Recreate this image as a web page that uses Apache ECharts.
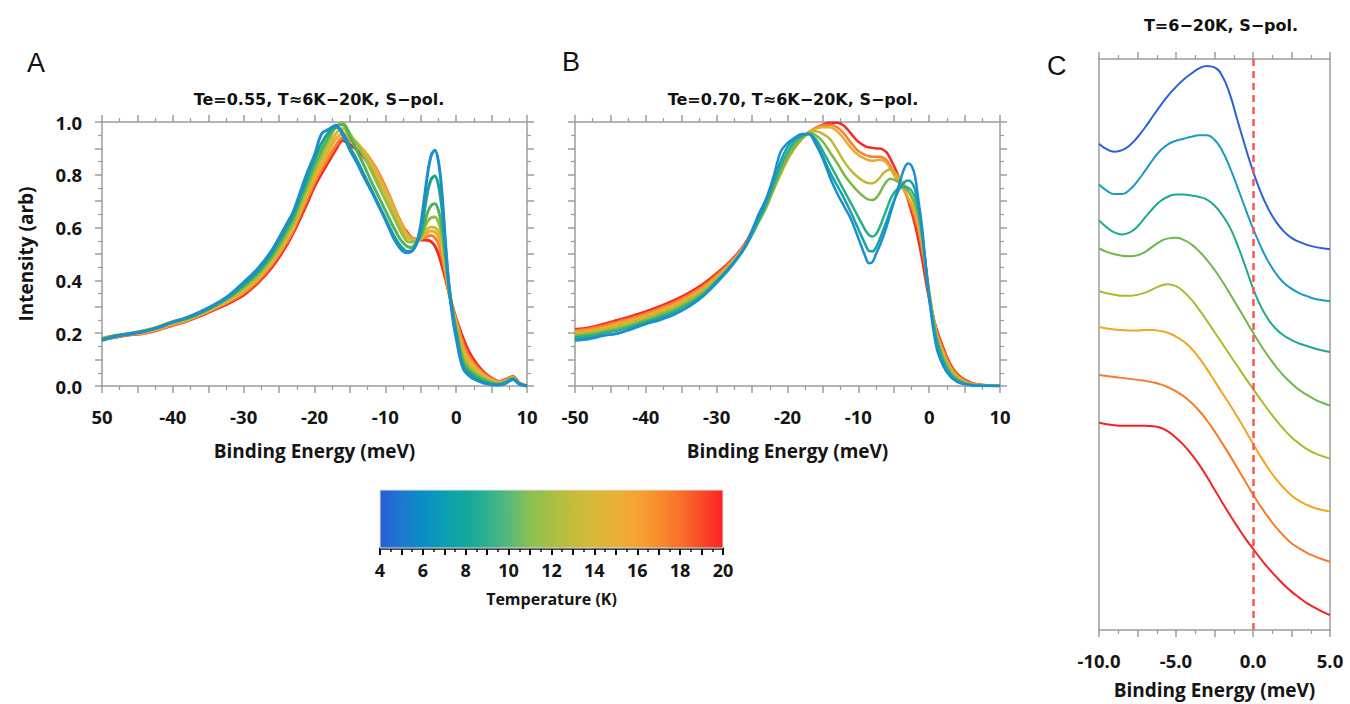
<!DOCTYPE html>
<html><head><meta charset="utf-8">
<script src="https://cdn.jsdelivr.net/npm/echarts@6/dist/echarts.min.js"></script>
<style>html,body{margin:0;padding:0;background:#fff}#chart{width:1350px;height:704px}</style>
</head><body><div id="chart"></div>
<script>
// ---------- shared x grid for panels A and B (meV) ----------
const X_AB = [-50,-48,-46,-44,-42,-40,-38,-36,-34,-32,-30,-28,-26,-24,
  -23,-22,-21,-20,-19,-18,-17,-16,-15,-14,-13,-12,-11,-10,-9,
  -8.5,-8,-7.5,-7,-6.5,-6,-5.5,-5,-4.5,-4,-3.5,-3,-2.5,-2,-1.5,-1,-0.5,0,
  1,2,3,4,5,6,7,8,9,10];

// ---------- Panel A: Te=0.55 (6K ... 20K) ----------
const A_06K = [0.172,0.188,0.197,0.207,0.222,0.242,0.26,0.283,0.31,0.345,0.393,0.445,0.515,0.61,
  0.66,0.735,0.81,0.875,0.955,0.972,0.988,0.95,0.894,0.845,0.79,0.74,0.685,0.63,0.57,
  0.545,0.525,0.51,0.505,0.507,0.518,0.55,0.61,0.71,0.81,0.875,0.893,0.85,0.73,0.54,0.37,0.26,0.18,
  0.065,0.035,0.02,0.01,0.006,0.004,0.01,0.025,0.006,0];
const A_08K = [0.175,0.19,0.198,0.207,0.222,0.242,0.258,0.28,0.307,0.34,0.385,0.435,0.505,0.598,
  0.65,0.72,0.79,0.86,0.92,0.96,0.98,0.96,0.905,0.855,0.8,0.745,0.69,0.635,0.58,
  0.555,0.535,0.52,0.51,0.51,0.52,0.545,0.585,0.66,0.74,0.785,0.795,0.76,0.67,0.52,0.38,0.28,0.2,
  0.075,0.045,0.027,0.015,0.008,0.005,0.012,0.026,0.007,0];
const A_10K = [0.178,0.19,0.199,0.208,0.223,0.242,0.256,0.278,0.305,0.337,0.378,0.428,0.495,0.585,
  0.635,0.705,0.772,0.838,0.895,0.945,0.985,0.99,0.945,0.89,0.835,0.775,0.72,0.665,0.61,
  0.585,0.56,0.543,0.53,0.525,0.53,0.545,0.57,0.615,0.66,0.685,0.69,0.665,0.6,0.49,0.37,0.28,0.21,
  0.09,0.055,0.035,0.02,0.011,0.007,0.014,0.028,0.008,0];
const A_12K = [0.18,0.192,0.2,0.21,0.225,0.245,0.255,0.277,0.303,0.333,0.372,0.42,0.485,0.572,
  0.622,0.69,0.755,0.818,0.875,0.93,0.98,0.995,0.955,0.915,0.87,0.815,0.76,0.705,0.65,
  0.622,0.595,0.57,0.55,0.545,0.545,0.55,0.565,0.595,0.625,0.638,0.64,0.62,0.57,0.47,0.365,0.28,0.22,
  0.105,0.065,0.043,0.026,0.015,0.009,0.016,0.03,0.008,0];
const A_14K = [0.182,0.19,0.199,0.206,0.22,0.24,0.252,0.274,0.3,0.33,0.365,0.412,0.475,0.56,
  0.61,0.675,0.74,0.8,0.855,0.905,0.955,0.975,0.945,0.92,0.885,0.84,0.785,0.73,0.675,
  0.645,0.615,0.588,0.565,0.556,0.552,0.553,0.56,0.578,0.595,0.602,0.6,0.585,0.545,0.46,0.36,0.285,0.23,
  0.12,0.078,0.052,0.032,0.019,0.011,0.018,0.031,0.009,0];
const A_16K = [0.18,0.188,0.197,0.203,0.217,0.235,0.25,0.272,0.297,0.325,0.358,0.405,0.467,0.55,
  0.6,0.662,0.725,0.785,0.835,0.885,0.935,0.955,0.94,0.92,0.89,0.85,0.8,0.745,0.69,
  0.658,0.625,0.6,0.575,0.562,0.556,0.555,0.558,0.57,0.582,0.587,0.583,0.565,0.52,0.44,0.355,0.29,0.24,
  0.14,0.092,0.062,0.039,0.023,0.013,0.02,0.033,0.009,0];
const A_18K = [0.178,0.186,0.195,0.2,0.215,0.232,0.248,0.27,0.294,0.32,0.352,0.397,0.46,0.54,
  0.59,0.65,0.71,0.77,0.82,0.865,0.91,0.94,0.93,0.915,0.89,0.855,0.81,0.755,0.695,
  0.662,0.632,0.605,0.58,0.565,0.557,0.555,0.556,0.562,0.568,0.57,0.562,0.54,0.49,0.425,0.352,0.295,0.25,
  0.16,0.105,0.07,0.045,0.027,0.015,0.022,0.034,0.01,0];
const A_20K = [0.176,0.185,0.194,0.2,0.213,0.23,0.246,0.267,0.29,0.315,0.345,0.39,0.45,0.53,
  0.58,0.636,0.695,0.755,0.805,0.85,0.895,0.93,0.915,0.894,0.865,0.825,0.78,0.735,0.68,
  0.65,0.62,0.6,0.585,0.567,0.558,0.555,0.553,0.553,0.552,0.546,0.53,0.5,0.455,0.405,0.35,0.3,0.255,
  0.18,0.12,0.08,0.05,0.03,0.017,0.025,0.036,0.01,0];

// ---------- Panel B: Te=0.70 (6K ... 20K) ----------
const B_06K = [0.172,0.178,0.19,0.2,0.215,0.235,0.25,0.27,0.3,0.34,0.395,0.455,0.53,0.655,
  0.71,0.79,0.885,0.92,0.94,0.955,0.955,0.915,0.86,0.79,0.73,0.68,0.63,0.56,0.49,
  0.465,0.47,0.5,0.53,0.565,0.605,0.65,0.695,0.74,0.785,0.825,0.843,0.835,0.795,0.7,0.6,0.46,0.33,
  0.15,0.075,0.035,0.015,0.007,0.003,0.001,0,0,0];
const B_08K = [0.178,0.183,0.193,0.198,0.22,0.238,0.255,0.275,0.3,0.338,0.39,0.45,0.525,0.64,
  0.7,0.775,0.85,0.905,0.935,0.95,0.955,0.925,0.87,0.81,0.76,0.71,0.655,0.595,0.535,
  0.512,0.51,0.525,0.555,0.59,0.625,0.665,0.7,0.73,0.755,0.772,0.778,0.772,0.745,0.68,0.585,0.46,0.34,
  0.17,0.085,0.04,0.018,0.008,0.003,0.001,0,0,0];
const B_10K = [0.185,0.19,0.2,0.21,0.226,0.243,0.262,0.283,0.31,0.345,0.395,0.452,0.525,0.63,
  0.69,0.76,0.83,0.885,0.925,0.945,0.955,0.935,0.89,0.84,0.79,0.74,0.69,0.64,0.59,
  0.572,0.566,0.575,0.6,0.635,0.67,0.705,0.73,0.745,0.752,0.755,0.752,0.74,0.715,0.66,0.575,0.46,0.345,
  0.18,0.095,0.045,0.021,0.01,0.004,0.002,0.001,0,0];
const B_12K = [0.19,0.196,0.206,0.218,0.233,0.25,0.27,0.29,0.318,0.352,0.4,0.455,0.525,0.625,
  0.68,0.745,0.81,0.865,0.91,0.94,0.958,0.95,0.925,0.885,0.845,0.8,0.765,0.735,0.712,
  0.706,0.705,0.712,0.73,0.755,0.775,0.785,0.782,0.775,0.765,0.755,0.74,0.72,0.69,0.64,0.565,0.46,0.35,
  0.19,0.105,0.052,0.025,0.012,0.005,0.002,0.001,0,0];
const B_14K = [0.197,0.203,0.213,0.227,0.242,0.258,0.278,0.298,0.327,0.36,0.405,0.46,0.528,0.625,
  0.675,0.74,0.8,0.855,0.9,0.935,0.96,0.965,0.955,0.935,0.895,0.85,0.815,0.79,0.772,
  0.768,0.768,0.775,0.788,0.805,0.816,0.82,0.812,0.798,0.78,0.762,0.74,0.715,0.68,0.63,0.56,0.46,0.355,
  0.2,0.115,0.06,0.03,0.015,0.007,0.003,0.001,0,0];
const B_16K = [0.203,0.21,0.22,0.235,0.25,0.266,0.286,0.307,0.335,0.368,0.412,0.465,0.532,0.63,
  0.685,0.745,0.805,0.858,0.9,0.935,0.962,0.975,0.98,0.98,0.965,0.935,0.9,0.875,0.86,
  0.855,0.853,0.855,0.857,0.855,0.845,0.825,0.8,0.78,0.76,0.74,0.715,0.69,0.655,0.605,0.54,0.455,0.36,
  0.205,0.125,0.068,0.036,0.018,0.008,0.004,0.002,0.001,0];
const B_18K = [0.21,0.217,0.228,0.243,0.258,0.275,0.295,0.317,0.344,0.377,0.42,0.47,0.536,0.638,
  0.692,0.752,0.81,0.862,0.903,0.935,0.962,0.978,0.988,0.99,0.98,0.955,0.92,0.89,0.875,
  0.87,0.868,0.868,0.868,0.865,0.855,0.835,0.81,0.785,0.762,0.738,0.71,0.68,0.635,0.59,0.52,0.44,0.345,
  0.21,0.135,0.075,0.04,0.02,0.01,0.005,0.002,0.001,0];
const B_20K = [0.215,0.222,0.235,0.25,0.265,0.282,0.302,0.325,0.352,0.385,0.427,0.475,0.54,0.645,
  0.7,0.76,0.815,0.865,0.905,0.935,0.96,0.978,0.99,0.997,0.997,0.985,0.955,0.925,0.908,
  0.904,0.902,0.9,0.9,0.895,0.885,0.862,0.835,0.805,0.775,0.745,0.705,0.66,0.61,0.55,0.48,0.4,0.33,
  0.22,0.145,0.082,0.045,0.024,0.012,0.006,0.003,0.001,0];

// ---------- Panel C: offset spectra, T = 6-20K (arbitrary offset units) ----------
const X_C = [-10,-9.5,-9,-8.5,-8,-7.5,-7,-6.5,-6,-5.5,-5,-4.5,-4,-3.5,-3,-2.5,-2,-1.5,-1,-0.5,0,0.5,1,1.5,2,2.5,3,3.5,4,4.5,5];
const C_1 = [488,482.5,480,481.5,486.5,494.5,504.5,515.5,526.5,536.5,545,552.5,558.5,563.5,566,564.5,556,537.5,511,485,460.5,439.5,422.5,409.5,400,393.5,389.5,386.5,384.5,383,382];
const C_2 = [447,441,437.5,437.5,442,450.5,461,472,481.5,487.5,491,493,495,496.5,496.5,492,481,464,444,423,403,385,369.5,357.5,348.5,342.5,338,335,332.5,331,330];
const C_3 = [411,404,399,397,399,405,414,423,430.5,435,437,437,436,434.5,432,426,416.5,404,386,365,343,325,311.5,302,295.5,291,287.5,285,282.5,280.5,279];
const C_4 = [383,379.5,377,375.5,375,376,379.5,385,390,393,393.5,391.5,387,380,371.5,361.5,350,337.5,324.5,311.5,298.5,286,274.5,264,255,247.5,241,236,231.5,228,225];
const C_5 = [340,338,336.5,335.5,335.5,336.5,338.5,342,345.5,347,345,339.5,331.5,321.5,310.5,299,287.5,276,264.5,253,242,231,220.5,210.5,201.5,193.5,187,181.5,177.5,174.5,172];
const C_6 = [304,302.5,301.5,301,300.5,300.5,301,301,300,298,294.5,289.5,282.5,273,262,250,238,226,213.5,200.5,187,174,162,151.5,142.5,135,129.5,125.5,122.5,120.5,119];
const C_7 = [256,255,254,253,252,251,250,248.5,246.5,243.5,239.5,234.5,228,220,210.5,199.5,187.5,175,162,149,136,124,113,103,94.5,87,82,77.5,74,71,68.5];
const C_8 = [208,206.5,205.5,205,205,205,205,204.5,203,199,193,185.5,176.5,166,154,141,128,115.5,103.5,92,81.5,71.5,62,53.5,45.5,38.5,32.5,27,22.5,18.5,15];
const C_FERMI = 0;

// ---------- colours and labels ----------
const TEMPS_AB = ['6K','8K','10K','12K','14K','16K','18K','20K'];
const COLORS_A = ['#1d8ecb','#19a58c','#4fb25c','#95bd3f','#d2b937','#f3a934','#f67d2e','#f02b22'];
const COLORS_B = ['#1a8fd0','#17a2aa','#2caf84','#78b84a','#c2b833','#eca92f','#f7802f','#f42b24'];
const COLORS_C = ['#2d5fd9','#1b9ac4','#1fa88f','#6db84a','#b2b62e','#f3a422','#f77a2b','#f42222'];
const CB_TEMPS = [4,5,6,7,8,9,10,11,12,13,14,15,16,17,18,19,20];
const CB_COLORS = ['#2b5dd6','#1c78d0','#0b8ec6','#0c9eb2','#12a89c','#2eb090','#58b87a','#8cc052','#a6c042','#c4bd3a','#d8b838','#e8b036','#f7a231','#f88d2c','#f8702a','#f94b26','#fb2222'];
const TITLE_A = 'Te=0.55, T\u22486K\u221220K, S\u2212pol.';
const TITLE_B = 'Te=0.70, T\u22486K\u221220K, S\u2212pol.';
const TITLE_C = 'T=6\u221220K, S\u2212pol.';

const A_DATA = [A_06K,A_08K,A_10K,A_12K,A_14K,A_16K,A_18K,A_20K];
const B_DATA = [B_06K,B_08K,B_10K,B_12K,B_14K,B_16K,B_18K,B_20K];
const C_DATA = [C_1,C_2,C_3,C_4,C_5,C_6,C_7,C_8];

const pair = (xs, ys) => xs.map((x, i) => [x, ys[i]]);
const GRAY = '#9c9c9c';
const TXT = '#151515';
const TICKFONT = {color: TXT, fontFamily: 'Open Sans', fontWeight: 'bold', fontSize: 18.5};
const NAMEFONT = {color: TXT, fontFamily: 'Open Sans', fontWeight: 'bold', fontSize: 19};

function xAx(grid, pos, min, max, interval, labelFmt, name, gap) {
  return {
    type: 'value', gridIndex: grid, position: pos, min: min, max: max, interval: interval,
    axisLine: {show: true, onZero: false, lineStyle: {color: GRAY, width: 1.5}},
    axisTick: {show: true, inside: false, length: 7, lineStyle: {color: GRAY, width: 1.5}},
    minorTick: {show: true, splitNumber: 2, length: 4, lineStyle: {color: GRAY, width: 1.2}},
    splitLine: {show: false},
    axisLabel: labelFmt ? Object.assign({formatter: labelFmt, margin: 21}, TICKFONT) : {show: false},
    name: name || '', nameLocation: 'middle', nameGap: gap || 55, nameTextStyle: NAMEFONT
  };
}
function yAx(grid, pos, labelFmt, name) {
  return {
    type: 'value', gridIndex: grid, position: pos, min: 0, max: 1, interval: 0.1,
    axisLine: {show: true, onZero: false, lineStyle: {color: GRAY, width: 1.5}},
    axisTick: {show: true, inside: false, length: 7, lineStyle: {color: GRAY, width: 1.5}},
    minorTick: {show: true, splitNumber: 2, length: 4, lineStyle: {color: GRAY, width: 1.2}},
    splitLine: {show: false},
    axisLabel: labelFmt ? Object.assign({formatter: labelFmt, margin: 20}, TICKFONT) : {show: false},
    name: name || '', nameLocation: 'middle', nameGap: 67, nameRotate: 90, nameTextStyle: NAMEFONT
  };
}
const fmtA = v => (v % 10 === 0 ? (v === -50 ? '50' : String(v)) : '');
const fmtB = v => (v % 10 === 0 ? String(v) : '');
const fmtY = v => (Math.round(v * 10) % 2 === 0 ? v.toFixed(1) : '');
const fmtC = v => (v % 5 === 0 ? v.toFixed(1) : '');
const fmtCB = v => (v % 2 === 0 ? String(v) : '');

const xAxis = [
  xAx(0, 'bottom', -50, 10, 5, fmtA, 'Binding Energy (meV)', 55),
  xAx(0, 'top', -50, 10, 5, null),
  xAx(1, 'bottom', -50, 10, 5, fmtB, 'Binding Energy (meV)', 55),
  xAx(1, 'top', -50, 10, 5, null),
  xAx(2, 'bottom', -10, 5, 2.5, fmtC, 'Binding Energy (meV)', 50),
  xAx(2, 'top', -10, 5, 2.5, null),
  {
    type: 'value', gridIndex: 3, position: 'bottom', min: 4, max: 20, interval: 1, offset: 3,
    axisLine: {show: true, lineStyle: {color: '#111', width: 2.5}},
    axisTick: {show: true, length: 7, lineStyle: {color: '#111', width: 2}},
    minorTick: {show: true, splitNumber: 2, length: 4, lineStyle: {color: '#111', width: 1.5}},
    splitLine: {show: false},
    axisLabel: Object.assign({formatter: fmtCB, margin: 10}, TICKFONT, {fontSize: 18}),
    name: 'Temperature (K)', nameLocation: 'middle', nameGap: 40,
    nameTextStyle: {color: TXT, fontFamily: 'Open Sans', fontWeight: 'bold', fontSize: 16}
  }
];
const cY = pos => ({
  type: 'value', gridIndex: 2, position: pos, min: 0, max: 573,
  axisLine: {show: true, onZero: false, lineStyle: {color: GRAY, width: 1.5}},
  axisTick: {show: false}, axisLabel: {show: false}, splitLine: {show: false}
});
const yAxis = [
  yAx(0, 'left', fmtY, 'Intensity (arb)'),
  yAx(0, 'right', null),
  yAx(1, 'left', null),
  yAx(1, 'right', null),
  cY('left'), cY('right'),
  {type: 'value', gridIndex: 3, min: 0, max: 1, show: false}
];

const series = [];
for (let i = 7; i >= 0; i--) {
  series.push({name: 'A ' + TEMPS_AB[i], type: 'line', xAxisIndex: 0, yAxisIndex: 0,
    data: pair(X_AB, A_DATA[i]), smooth: 0.35, showSymbol: false,
    lineStyle: {color: COLORS_A[i], width: 3}, itemStyle: {color: COLORS_A[i]}});
}
for (let i = 7; i >= 0; i--) {
  series.push({name: 'B ' + TEMPS_AB[i], type: 'line', xAxisIndex: 2, yAxisIndex: 2,
    data: pair(X_AB, B_DATA[i]), smooth: 0.35, showSymbol: false,
    lineStyle: {color: COLORS_B[i], width: 2.5}, itemStyle: {color: COLORS_B[i]}});
}
for (let i = 0; i < 8; i++) {
  const s = {name: 'C ' + (i + 1), type: 'line', xAxisIndex: 4, yAxisIndex: 4,
    data: pair(X_C, C_DATA[i]), smooth: 0.5, showSymbol: false,
    lineStyle: {color: COLORS_C[i], width: 2}, itemStyle: {color: COLORS_C[i]}};
  if (i === 7) {
    s.markLine = {silent: true, symbol: 'none', label: {show: false}, animation: false,
      lineStyle: {color: '#ff5656', type: [7, 5], width: 2.5},
      data: [{xAxis: C_FERMI}]};
  }
  series.push(s);
}
series.push({
  type: 'custom', xAxisIndex: 6, yAxisIndex: 6, data: [[CB_TEMPS[0], CB_TEMPS[CB_TEMPS.length - 1]]],
  encode: {x: [0, 1]}, silent: true,
  renderItem: (params, api) => {
    const t0 = api.value(0), t1 = api.value(1);
    const p0 = api.coord([t0, 1]);
    const p1 = api.coord([t1, 0]);
    const stops = CB_TEMPS.map((t, i) => ({offset: (t - t0) / (t1 - t0), color: CB_COLORS[i]}));
    return {type: 'rect', shape: {x: p0[0], y: p0[1], width: p1[0] - p0[0], height: p1[1] - p0[1]},
      style: {fill: new echarts.graphic.LinearGradient(0, 0, 1, 0, stops), stroke: '#dde4f0', lineWidth: 1}};
  }
});

const letter = (t, x, y) => ({text: t, left: x, top: y,
  textStyle: {fontFamily: 'Liberation Sans', fontWeight: 'normal', fontSize: 27, color: '#111'}});
const ttl = (t, cx, y) => ({text: t, left: cx, top: y, textAlign: 'center',
  textStyle: {fontFamily: 'DejaVu Sans', fontWeight: 'bold', fontSize: 16, color: '#111'}});

const option = {
  animation: false,
  backgroundColor: '#fff',
  title: [
    letter('A', 22, 44), letter('B', 557, 43), letter('C', 1042, 47),
    ttl(TITLE_A, 314, 86), ttl(TITLE_B, 788, 86), ttl(TITLE_C, 1216, 12)
  ],
  grid: [
    {left: 102, top: 122, width: 425, height: 264},
    {left: 575, top: 122, width: 425, height: 264},
    {left: 1099, top: 59, width: 231, height: 573},
    {left: 380, top: 490, width: 343, height: 58}
  ],
  xAxis: xAxis,
  yAxis: yAxis,
  series: series
};
const chart = echarts.init(document.getElementById('chart'), null, {renderer: 'svg'});
chart.setOption(option);
</script></body></html>
